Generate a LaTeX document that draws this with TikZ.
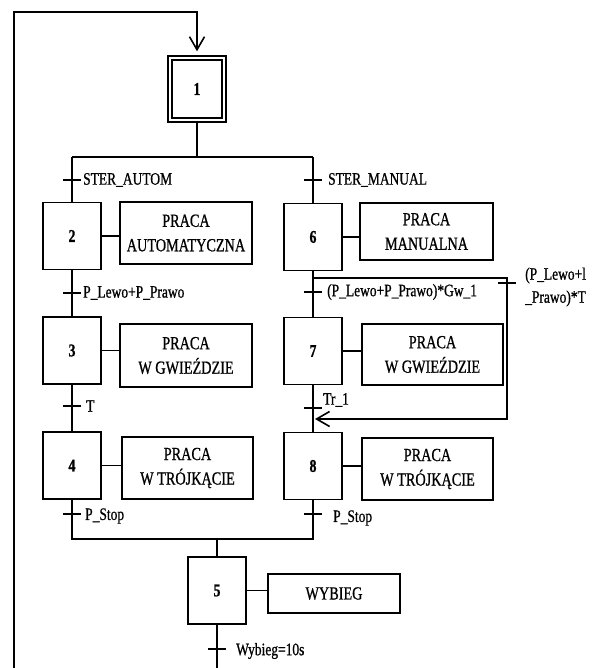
\documentclass[tikz,border=0pt]{standalone}
\usepackage{fontspec}
\setmainfont{Liberation Serif}
\newfontfamily\condfont[FakeStretch=0.77,FakeBold=0.8]{Liberation Serif}
\usetikzlibrary{arrows.meta,calc}
\tikzset{
  ln/.style={line width=1.6pt},
  stepbox/.style={draw, line width=1.6pt, minimum width=58pt, minimum height=67pt, inner sep=0pt,
    font=\condfont\bfseries\fontsize{18}{20}\selectfont},
  actbox/.style={draw, line width=1.6pt, inner sep=0pt, align=center,
    font=\condfont\fontsize{18.5}{24.5}\selectfont},
  lbl/.style={anchor=west, inner sep=0pt, font=\condfont\fontsize{17.5}{23}\selectfont},
  trbar/.style={line width=1.8pt},
  arr/.style={-{Straight Barb[length=13pt,width=15pt,line width=1.6pt]}}
}
\begin{document}
\begin{tikzpicture}[x=1pt,y=-1pt]
\clip (0,0) rectangle (594,668);
% steps
\node[stepbox, double, double distance=2.5pt, line width=1.4pt, minimum width=54pt, minimum height=62pt] (s1) at (197,89) {1};
\node[stepbox] (s2) at (72,236) {2};
\node[stepbox] (s3) at (72,350.5) {3};
\node[stepbox] (s4) at (72,465.5) {4};
\node[stepbox] (s6) at (313,237) {6};
\node[stepbox] (s7) at (313,351) {7};
\node[stepbox] (s8) at (313,466) {8};
\node[stepbox] (s5) at (217,590.5) {5};
% actions
\node[actbox, minimum width=132pt, minimum height=62pt] (a2) at (186,233) {PRACA\\AUTOMATYCZNA};
\node[actbox, minimum width=132pt, minimum height=63pt] (a3) at (186,355.5) {PRACA\\W GWIEŹDZIE};
\node[actbox, minimum width=131pt, minimum height=62pt] (a4) at (187.5,468) {PRACA\\W TRÓJKĄCIE};
\node[actbox, minimum width=133pt, minimum height=57pt] (a6) at (426.5,231.5) {PRACA\\MANUALNA};
\node[actbox, minimum width=141pt, minimum height=61pt] (a7) at (432.5,354.5) {PRACA\\W GWIEŹDZIE};
\node[actbox, minimum width=131pt, minimum height=62pt] (a8) at (427.5,469) {PRACA\\W TRÓJKĄCIE};
\node[actbox, minimum width=132pt, minimum height=39pt] (a5) at (334,593.5) {WYBIEG};
% action links
\foreach \s/\a in {s2/a2,s3/a3,s4/a4,s6/a6,s7/a7,s8/a8,s5/a5}
  \draw[ln] (\s.east) -- (\s.east -| \a.west);
% branch coordinates
\coordinate (d1) at (72,157);
\coordinate (d2) at (313,157);
\coordinate (j1) at (72,539);
\coordinate (j2) at (313,539);
\coordinate (j5) at (217,539);
\draw[ln] (s1.south) -- (s1.south |- d1);
\draw[ln] (d1) -- (d2);
\draw[ln] (d1) -- (s2.north);
\draw[ln] (d2) -- (s6.north);
\draw[ln] (s2.south) -- (s3.north);
\draw[ln] (s3.south) -- (s4.north);
\draw[ln] (s6.south) -- (s7.north);
\draw[ln] (s7.south) -- (s8.north);
\draw[ln] (s4.south) -- (j1) -- (j2) -- (s8.south);
\draw[ln] (j5) -- (s5.north);
% loop 6 -> 8
\coordinate (l0) at (313,278);
\coordinate (l1) at (507,278);
\coordinate (l2) at (507,419);
\coordinate (l3) at (315,419);
\draw[ln, arr] (l0) -- (l1) -- (l2) -- (l3);
% return loop
\coordinate (r0) at (217,668.5);
\coordinate (r1) at (14,668.5);
\coordinate (r2) at (14,12);
\coordinate (r3) at (197,12);
\draw[ln, arr] (s5.south) -- (r0) -- (r1) -- (r2) -- (r3) -- ([yshift=6pt]s1.north);
% transitions
\coordinate (t1) at (72,180);
\coordinate (t2) at (313,180);
\coordinate (t3) at (72,293);
\coordinate (t4) at (72,406);
\coordinate (t5) at (72,514);
\coordinate (t6) at (313,292);
\coordinate (t7) at (313,408);
\coordinate (t8) at (313,514);
\coordinate (t9) at (217,649);
\coordinate (tl) at (507,283);
\foreach \t in {t1,t2,t3,t4,t5,t6,t7,t8,t9,tl}
  \draw[trbar] ([xshift=-9pt]\t) -- ([xshift=9pt]\t);
% labels
\node[lbl] (L1) at (83,180) {STER\_AUTOM};
\node[lbl] (L2) at (328,180) {STER\_MANUAL};
\node[lbl] (L3) at (83,293) {P\_Lewo+P\_Prawo};
\node[lbl] (L4) at (86,406) {T};
\node[lbl] (L5) at (85,516) {P\_Stop};
\node[lbl] (L6) at (327,292) {(P\_Lewo+P\_Prawo)*Gw\_1};
\node[lbl] (L7) at (323,400) {Tr\_1};
\node[lbl] (L8) at (333,518) {P\_Stop};
\node[lbl] (L9) at (236,651) {Wybieg=10s};
\node[lbl, align=left] (L10) at (525,287) {(P\_Lewo+l\\\_Prawo)*T};
\end{tikzpicture}
\end{document}
